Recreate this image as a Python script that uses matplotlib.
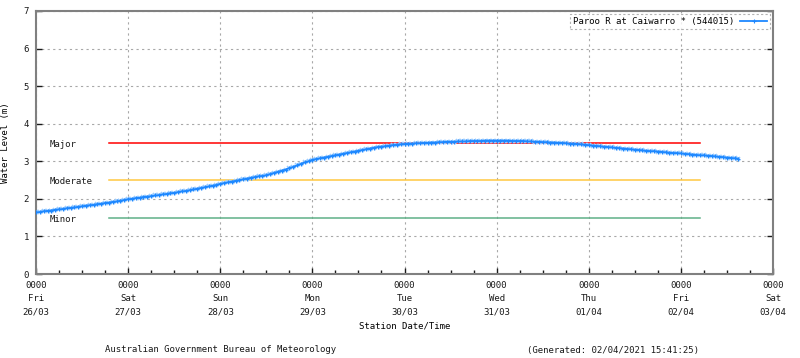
import matplotlib
matplotlib.use("Agg")
import matplotlib.pyplot as plt
import matplotlib.dates as mdates
from matplotlib.ticker import MultipleLocator
from datetime import datetime, timedelta

# ---- data ----
start_time = datetime(2021, 3, 26, 0, 0)
# hourly water level readings (m) from 26/03 00:00
level_26 = [1.64, 1.65, 1.67, 1.68, 1.69, 1.71, 1.72, 1.73, 1.75, 1.76, 1.77, 1.79,
            1.80, 1.82, 1.83, 1.84, 1.86, 1.87, 1.89, 1.90, 1.92, 1.93, 1.95, 1.97]
level_27 = [1.99, 2.00, 2.02, 2.03, 2.05, 2.06, 2.07, 2.09, 2.10, 2.12, 2.13, 2.15,
            2.16, 2.18, 2.20, 2.21, 2.23, 2.25, 2.27, 2.29, 2.31, 2.33, 2.35, 2.37]
level_28 = [2.40, 2.42, 2.44, 2.46, 2.48, 2.50, 2.52, 2.54, 2.56, 2.58, 2.60, 2.61,
            2.63, 2.66, 2.69, 2.72, 2.75, 2.78, 2.82, 2.85, 2.89, 2.93, 2.97, 3.00]
level_29 = [3.04, 3.06, 3.08, 3.10, 3.12, 3.14, 3.16, 3.18, 3.20, 3.22, 3.24, 3.26,
            3.28, 3.30, 3.32, 3.34, 3.36, 3.38, 3.39, 3.40, 3.42, 3.43, 3.44, 3.45]
level_30 = [3.46, 3.47, 3.47, 3.48, 3.48, 3.49, 3.49, 3.50, 3.50, 3.51, 3.51, 3.52,
            3.52, 3.52, 3.53, 3.53, 3.53, 3.54, 3.54, 3.54, 3.54, 3.55, 3.55, 3.55]
level_31 = [3.55, 3.55, 3.55, 3.55, 3.54, 3.54, 3.54, 3.54, 3.53, 3.53, 3.52, 3.52,
            3.51, 3.51, 3.50, 3.50, 3.49, 3.49, 3.48, 3.47, 3.47, 3.46, 3.45, 3.44]
level_01 = [3.43, 3.42, 3.41, 3.40, 3.39, 3.38, 3.37, 3.36, 3.35, 3.34, 3.33, 3.32,
            3.31, 3.30, 3.29, 3.28, 3.27, 3.27, 3.26, 3.25, 3.24, 3.23, 3.22, 3.22]
level_02 = [3.21, 3.20, 3.19, 3.18, 3.17, 3.16, 3.16, 3.15, 3.14, 3.13, 3.12, 3.11,
            3.10, 3.09, 3.08, 3.07]

levels = level_26 + level_27 + level_28 + level_29 + level_30 + level_31 + level_01 + level_02
times = [start_time + timedelta(hours=i) for i in range(len(levels))]

threshold_names = ["Major", "Moderate", "Minor"]
threshold_values = [3.5, 2.5, 1.5]
threshold_colors = ["#ff0000", "#ffc840", "#5fb088"]
threshold_start = datetime(2021, 3, 26, 19, 0)
threshold_end = datetime(2021, 4, 2, 5, 0)

series_label = "Paroo R at Caiwarro * (544015)"
x_min = datetime(2021, 3, 26)
x_max = datetime(2021, 4, 3)

# ---- plot ----
plt.rcParams["font.family"] = ["DejaVu Sans Mono"]
fs = 6.5
tc = "#1a1a1a"

fig = plt.figure(figsize=(8, 3.58), dpi=100)
ax = fig.add_axes([36 / 800, 1 - 274 / 358, (773 - 36) / 800, (274 - 11) / 358])

for name, val, col in zip(threshold_names, threshold_values, threshold_colors):
    ax.plot([threshold_start, threshold_end], [val, val], color=col, lw=1.1, zorder=2)
    ax.text(datetime(2021, 3, 26, 3, 40), val - 0.04, name, fontsize=fs, va="center",
            ha="left", color=tc)

ax.plot(times, levels, ls="none", marker="x", ms=3.4, mec="#9ccdff", mew=1.1, zorder=3)
ax.plot(times, levels, color="#1e88ff", lw=1.3, marker="+", ms=2.6, mec="#1e88ff",
        mew=0.8, zorder=4, label=series_label)

ax.set_xlim(x_min, x_max)
ax.set_ylim(0, 7)
ax.yaxis.set_major_locator(MultipleLocator(1))
ax.xaxis.set_major_locator(mdates.DayLocator())
ax.xaxis.set_minor_locator(mdates.HourLocator(byhour=[6, 12, 18]))
ax.xaxis.set_major_formatter(mdates.DateFormatter("%H%M\n%a\n%d/%m"))

ax.grid(True, which="major", color="#a8a8a8", linestyle=(0, (2, 3)), lw=0.8)
ax.tick_params(which="both", direction="in", labelsize=fs, colors=tc,
               right=True, top=False)
ax.tick_params(which="major", length=4, width=1, pad=5)
ax.tick_params(which="minor", length=3, width=1)
for lab in ax.get_xticklabels():
    lab.set_linespacing(1.6)
for sp in ax.spines.values():
    sp.set_color("#808080")
    sp.set_linewidth(1.5)

ax.set_ylabel("Water Level (m)", fontsize=fs, labelpad=10)
ax.set_xlabel("Station Date/Time", fontsize=fs, labelpad=4)

leg = ax.legend(loc="upper right", fontsize=fs, frameon=True, fancybox=False,
                handlelength=3.0, borderpad=0.35, borderaxespad=0.3, markerfirst=False,
                handletextpad=0.6)
leg.get_frame().set_edgecolor("#a0a0a0")
leg.get_frame().set_linestyle((0, (2, 2)))
leg.get_frame().set_linewidth(0.8)

fig.text(221 / 800, 1 - 350 / 358, "Australian Government Bureau of Meteorology",
         fontsize=fs, ha="center", va="center", color=tc)
fig.text(613 / 800, 1 - 350 / 358, "(Generated: 02/04/2021 15:41:25)",
         fontsize=fs, ha="center", va="center", color=tc)

fig.savefig("out.png", dpi=100)
